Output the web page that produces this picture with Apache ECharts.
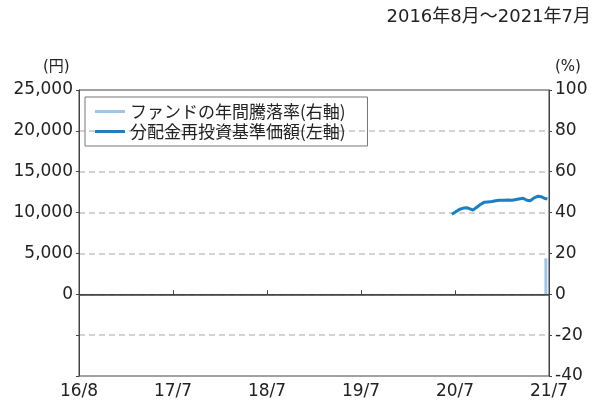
<!DOCTYPE html>
<html>
<head>
<meta charset="utf-8">
<script src="https://cdn.jsdelivr.net/npm/echarts@6/dist/echarts.min.js"></script>
<style>
html,body{margin:0;padding:0;background:#fff;}
#chart{width:595px;height:403px;}
</style>
</head>
<body>
<div id="chart"></div>
<script>
// x軸: 16/8 を 0 とした月数
let xLabels=["16/8","17/7","18/7","19/7","20/7","21/7"];
let navMonths=[47.6,48.1,48.6,49.1,49.5,49.9,50.3,50.7,51.2,51.7,52.2,52.7,53.2,53.7,54.2,54.8,55.3,55.8,56.3,56.7,57.2,57.6,58.1,58.6,59.0,59.4,59.8];
let navValues=[9800,10100,10400,10550,10600,10450,10300,10600,10950,11250,11300,11350,11450,11500,11500,11550,11500,11600,11700,11750,11500,11450,11800,12000,11950,11750,11650];
let returnMonths=[59.6];
let returnValues=[17.6];
let seriesNames=["ファンドの年間騰落率(右軸)","分配金再投資基準価額(左軸)"];

let font="'DejaVu Sans', 'Noto Sans CJK JP', sans-serif";
let jpFont="'Noto Sans CJK JP', sans-serif";
let navData=navMonths.map((m,i)=>[m,navValues[i]]);
let returnData=returnMonths.map((m,i)=>[m,returnValues[i]]);

var myChart=echarts.init(document.getElementById("chart"));
var option={
    animation:false,
    textStyle:{fontFamily:font},
    graphic:[
        {type:"text",right:4,top:8,style:{text:"2016年8月～2021年7月",font:"18px "+font,fill:"#222"}},
        {type:"text",left:43,top:60,style:{text:"(円)",font:"15px "+font,fill:"#222"}},
        {type:"text",left:555,top:60,style:{text:"(%)",font:"15px "+font,fill:"#222"}}
    ],
    grid:{left:79,right:46,top:90,bottom:27,show:true,borderColor:"#444",borderWidth:1},
    legend:{
        orient:"vertical",
        left:85,top:97,
        padding:[6,22,6,10],
        borderColor:"#777",borderWidth:1,
        itemWidth:30,itemHeight:3,itemGap:3,
        icon:"rect",
        data:seriesNames,
        textStyle:{fontSize:17,color:"#222",fontFamily:jpFont}
    },
    xAxis:{
        type:"value",
        min:0,max:60,interval:12,
        axisLine:{lineStyle:{color:"#444"}},
        axisTick:{inside:true,length:4,lineStyle:{color:"#444"}},
        axisLabel:{
            fontSize:17,color:"#222",margin:7,
            formatter:function(v){return xLabels[v/12];}
        },
        splitLine:{show:false}
    },
    yAxis:[{
        type:"value",
        min:-10000,max:25000,interval:5000,
        position:"left",
        axisLine:{show:true,lineStyle:{color:"#444"}},
        axisTick:{show:true,length:3,lineStyle:{color:"#444"}},
        axisLabel:{
            fontSize:17,color:"#222",margin:6,
            formatter:function(v){return v<0?"":v.toLocaleString("en-US");}
        },
        splitLine:{show:true,showMinLine:false,showMaxLine:false,lineStyle:{color:"#c4c4c4",type:[6,4],width:1.5}}
    },{
        type:"value",
        min:-40,max:100,interval:20,
        position:"right",
        axisLine:{show:true,lineStyle:{color:"#444"}},
        axisTick:{show:true,length:3,lineStyle:{color:"#444"}},
        axisLabel:{fontSize:17,color:"#222",margin:6},
        splitLine:{show:false}
    }],
    series:[{
        name:seriesNames[0],
        type:"bar",
        yAxisIndex:1,
        barWidth:3,
        data:returnData,
        itemStyle:{color:"#9fc6e8"}
    },{
        name:seriesNames[1],
        type:"line",
        yAxisIndex:0,
        data:navData,
        showSymbol:false,
        symbol:"none",
        lineStyle:{color:"#1b7fc2",width:3},
        itemStyle:{color:"#1b7fc2"},
        markLine:{
            silent:true,symbol:"none",label:{show:false},
            lineStyle:{color:"#444",type:"solid",width:1.5},
            data:[{yAxis:0}]
        }
    }]
};
myChart.setOption(option);
</script>
</body>
</html>
